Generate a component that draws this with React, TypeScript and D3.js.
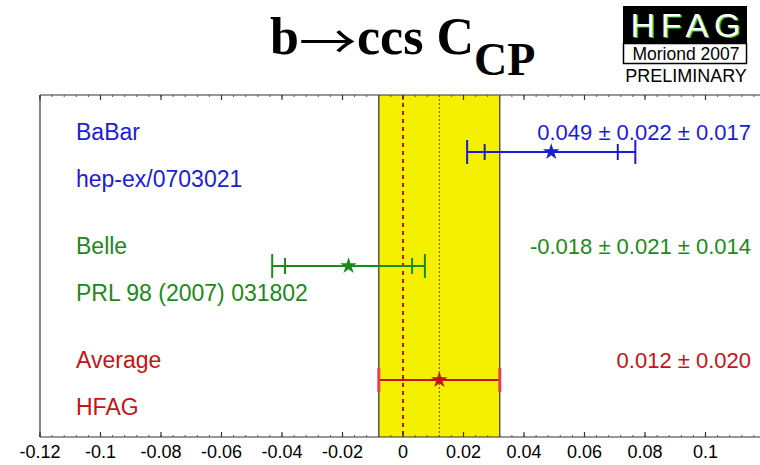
import React from 'react'
import * as d3 from 'd3'

const experiments = ['BaBar', 'Belle', 'Average']
const references = ['hep-ex/0703021', 'PRL 98 (2007) 031802', 'HFAG']
const centralValues = [0.049, -0.018, 0.012]
const statErrors = [0.022, 0.021, 0.020]
const systErrors = [0.017, 0.014, 0]
const valueLabels = ['0.049 \u00b1 0.022 \u00b1 0.017', '-0.018 \u00b1 0.021 \u00b1 0.014', '0.012 \u00b1 0.020']
const colors = ['#1c1cd6', '#1a8a1a', '#c41414']
const tickValues = [-0.12, -0.1, -0.08, -0.06, -0.04, -0.02, 0, 0.02, 0.04, 0.06, 0.08, 0.1]
const tickLabels = ['-0.12', '-0.1', '-0.08', '-0.06', '-0.04', '-0.02', '0', '0.02', '0.04', '0.06', '0.08', '0.1']

const W = 760
const H = 465
const margin = { left: 40, top: 95, bottom: 28 }
const sans = 'Helvetica, Arial, "Liberation Sans", sans-serif'
const serif = '"Liberation Serif", "Times New Roman", serif'

export default function App() {
  const x = d3.scaleLinear().domain([-0.12, 0.12]).range([margin.left, 766])
  const y = d3.scaleBand<string>().domain(experiments).range([margin.top, H - margin.bottom])
  const plotBottom = H - margin.bottom
  const star = d3.symbol().type(d3.symbolStar).size(85)

  const avg = centralValues[2]
  const avgErr = statErrors[2]
  const minorTicks = d3.range(-0.12, 0.1201, 0.004)

  return (
    <svg width={W} height={H} style={{ position: 'absolute', left: 0, top: 0, background: '#fff' }}>
      {/* title, split in pieces so the long arrow can use another font */}
      <text x={270} y={54} fontFamily={serif} fontWeight="bold" fontSize={52} fill="#000">b</text>
      <text transform="translate(299,58) scale(1.25,1)" fontFamily='"Noto Sans CJK JP", "DejaVu Sans"' fontSize={46} fill="#000">{'\u2192'}</text>
      <text x={357} y={54} fontFamily={serif} fontWeight="bold" fontSize={52} fill="#000">ccs C</text>
      <text x={474} y={75} fontFamily={serif} fontWeight="bold" fontSize={46} fill="#000">CP</text>

      {/* HFAG logo */}
      <g>
        <rect x={623} y={6} width={124} height={37} fill="#000" />
        <text x={632} y={38} fontFamily={sans} fontSize={34} fill="#22c422" textLength={110} lengthAdjust="spacing">HFAG</text>
        <text x={630.5} y={36.5} fontFamily={sans} fontSize={34} fill="#ffffff" textLength={110} lengthAdjust="spacing">HFAG</text>
        <rect x={623.5} y={43.5} width={123} height={20} fill="#fff" stroke="#000" strokeWidth={1.5} />
        <text x={686} y={60} textAnchor="middle" fontFamily={sans} fontSize={17.5} fill="#000">Moriond 2007</text>
        <text x={686} y={82} textAnchor="middle" fontFamily={sans} fontSize={18} fill="#000">PRELIMINARY</text>
      </g>

      {/* average band */}
      <rect x={x(avg - avgErr)} y={margin.top} width={x(avg + avgErr) - x(avg - avgErr)} height={plotBottom - margin.top} fill="#f4f000" />
      <line x1={x(avg - avgErr)} x2={x(avg - avgErr)} y1={margin.top} y2={plotBottom} stroke="#333" strokeWidth={1.2} />
      <line x1={x(avg + avgErr)} x2={x(avg + avgErr)} y1={margin.top} y2={plotBottom} stroke="#333" strokeWidth={1.2} />
      <line x1={x(0)} x2={x(0)} y1={margin.top} y2={plotBottom} stroke="#c41414" strokeWidth={2} strokeDasharray="4,4" />
      <line x1={x(avg)} x2={x(avg)} y1={margin.top} y2={plotBottom} stroke="#555" strokeWidth={1} strokeDasharray="2,2" />

      {/* frame */}
      <line x1={margin.left} x2={W} y1={margin.top} y2={margin.top} stroke="#333" strokeWidth={1.2} />
      <line x1={margin.left} x2={W} y1={plotBottom} y2={plotBottom} stroke="#333" strokeWidth={1.2} />
      <line x1={margin.left} x2={margin.left} y1={margin.top} y2={plotBottom} stroke="#333" strokeWidth={1.2} />

      {minorTicks.map((t, i) => (
        <g key={'m' + i}>
          <line x1={x(t)} x2={x(t)} y1={margin.top} y2={margin.top + 2} stroke="#555" strokeWidth={1} />
          <line x1={x(t)} x2={x(t)} y1={plotBottom} y2={plotBottom - 2} stroke="#555" strokeWidth={1} />
        </g>
      ))}
      {tickValues.map((t, i) => (
        <g key={t}>
          <line x1={x(t)} x2={x(t)} y1={margin.top} y2={margin.top + 5} stroke="#333" strokeWidth={1.2} />
          <line x1={x(t)} x2={x(t)} y1={plotBottom} y2={plotBottom - 5} stroke="#333" strokeWidth={1.2} />
          <text x={x(t)} y={458} textAnchor="middle" fontFamily={sans} fontSize={18} fill="#000">{tickLabels[i]}</text>
        </g>
      ))}

      {/* measurements */}
      {experiments.map((name, i) => {
        const cy = (y(name) as number) + y.bandwidth() / 2
        const v = centralValues[i]
        const stat = statErrors[i]
        const tot = Math.sqrt(stat * stat + systErrors[i] * systErrors[i])
        const c = colors[i]
        const isAvg = systErrors[i] === 0
        return (
          <g key={name}>
            <text x={76} y={cy - 12} fontFamily={sans} fontSize={23} fill={c}>{name}</text>
            <text x={76} y={cy + 35} fontFamily={sans} fontSize={23} fill={c}>{references[i]}</text>
            <text x={751} y={cy - 12} textAnchor="end" fontFamily={sans} fontSize={22} fill={c}>{valueLabels[i]}</text>
            <line x1={x(v - tot)} x2={x(v + tot)} y1={cy} y2={cy} stroke={c} strokeWidth={2} />
            {isAvg ? (
              <g>
                <line x1={x(v - tot)} x2={x(v - tot)} y1={cy - 12} y2={cy + 12} stroke="#e04050" strokeWidth={3} />
                <line x1={x(v + tot)} x2={x(v + tot)} y1={cy - 12} y2={cy + 12} stroke="#e04050" strokeWidth={3} />
              </g>
            ) : (
              <g>
                {[v - tot, v + tot].map((e, k) => (
                  <line key={'t' + k} x1={x(e)} x2={x(e)} y1={cy - 12} y2={cy + 12} stroke={c} strokeWidth={2} />
                ))}
                {[v - stat, v + stat].map((e, k) => (
                  <line key={'s' + k} x1={x(e)} x2={x(e)} y1={cy - 8} y2={cy + 8} stroke={c} strokeWidth={2} />
                ))}
              </g>
            )}
            <path d={star() as string} transform={`translate(${x(v)},${cy})`} fill={c} />
          </g>
        )
      })}
    </svg>
  )
}
